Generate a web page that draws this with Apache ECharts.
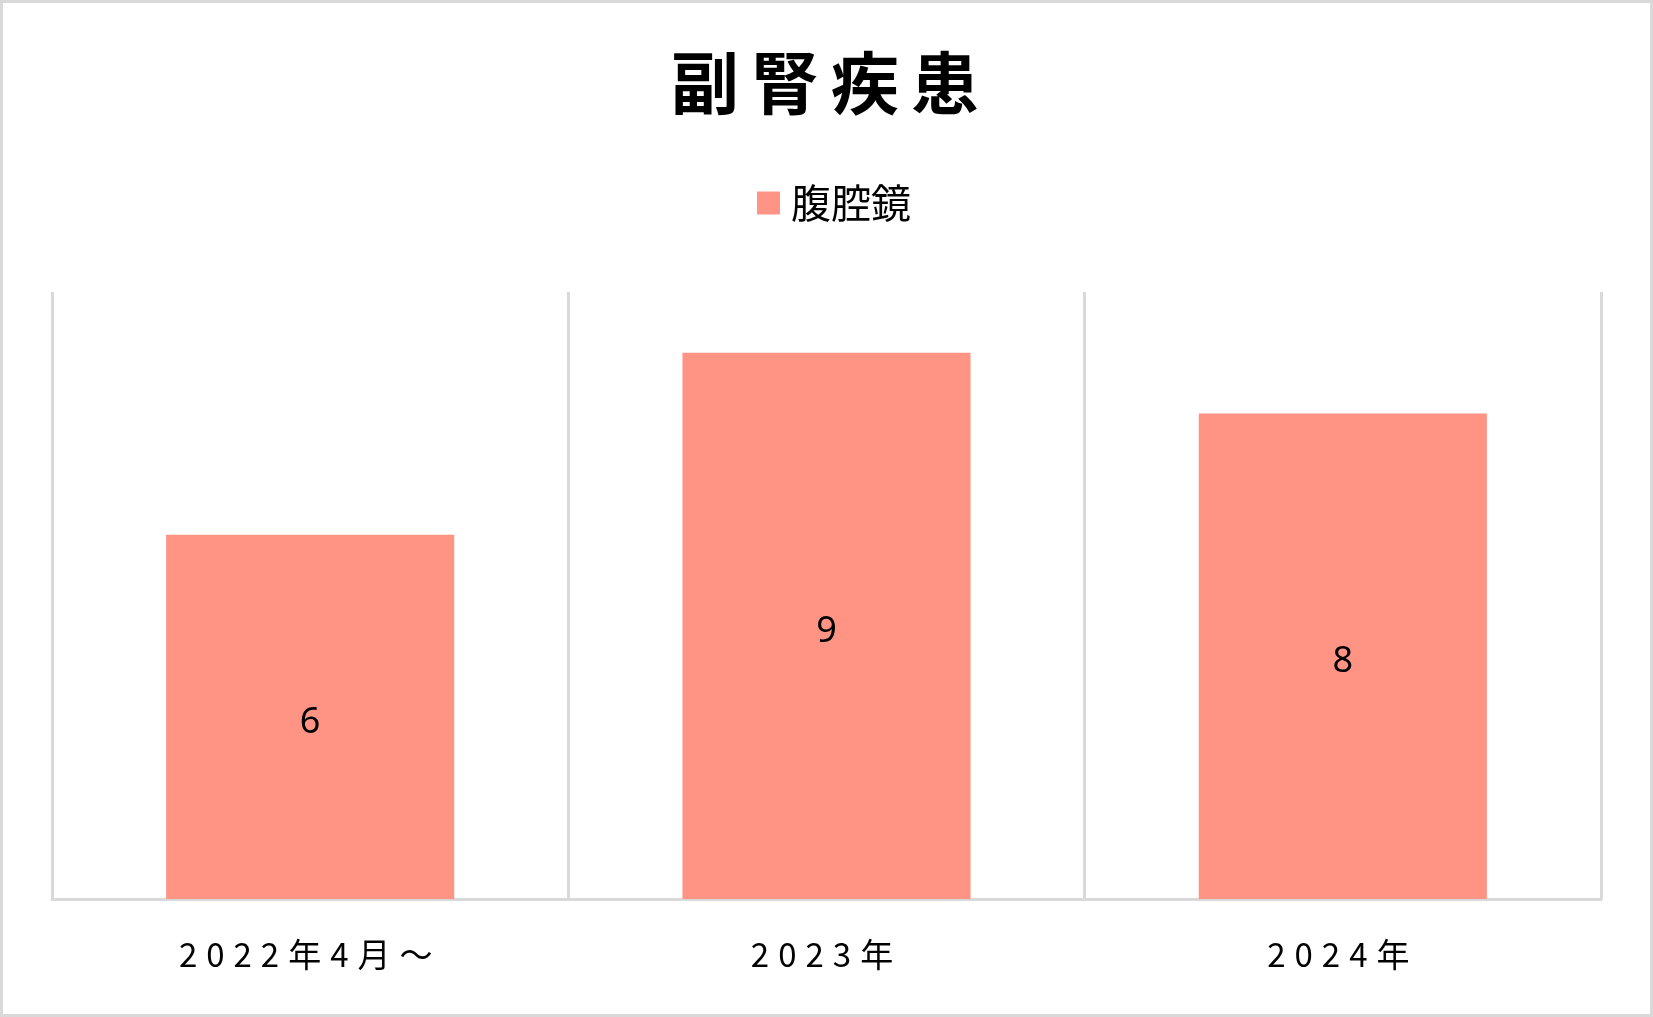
<!DOCTYPE html>
<html>
<head>
<meta charset="utf-8">
<script src="https://cdn.jsdelivr.net/npm/echarts@6/dist/echarts.min.js"></script>
<style>
html,body{margin:0;padding:0;background:#fff;}
#chart{width:1653px;height:1017px;}
</style>
</head>
<body>
<div id="chart"></div>
<script>
const titleText = '副腎疾患';
const seriesName = '腹腔鏡';
const categories = ['2022年4月～', '2023年', '2024年'];
const values = [6, 9, 8];
const yMin = 0;
const yMax = 10;

function spaced(str, style) {
  return Array.from(str).map(c => '{' + style + '|' + c + '}').join('');
}

const chart = echarts.init(document.getElementById('chart'), null, {renderer: 'canvas'});
const cjk = '"Noto Sans CJK JP", "Noto Sans", sans-serif';

chart.setOption({
  backgroundColor: '#ffffff',
  animation: false,
  title: {
    text: spaced(titleText, 't'),
    left: 666,
    top: 44,
    textStyle: {
      rich: {
        t: {fontFamily: cjk, fontSize: 68, fontWeight: 'bold', color: '#000', padding: [0, 12, 0, 0]}
      }
    }
  },
  legend: {
    data: [seriesName],
    top: 178,
    left: 752,
    icon: 'rect',
    itemWidth: 23,
    itemHeight: 23,
    textStyle: {fontFamily: cjk, fontSize: 40, color: '#000', padding: [0, 0, 0, 6]}
  },
  grid: {left: 52, right: 52, top: 292, bottom: 118, containLabel: false},
  xAxis: {
    type: 'category',
    data: categories,
    axisLine: {show: true, lineStyle: {color: '#d9d9d9', width: 3}},
    axisTick: {show: false},
    splitLine: {show: true, showMinLine: true, showMaxLine: true, lineStyle: {color: '#d9d9d9', width: 3}},
    axisLabel: {
      margin: 39,
      formatter: v => spaced(v, 'a'),
      rich: {
        a: {fontFamily: cjk, fontSize: 33, color: '#000', padding: [0, 9, 0, 0]}
      }
    }
  },
  yAxis: {
    type: 'value',
    min: yMin,
    max: yMax,
    show: false,
    splitLine: {show: false}
  },
  graphic: [{
    type: 'rect',
    shape: {x: 1.5, y: 1.5, width: 1650, height: 1014},
    style: {fill: null, stroke: '#d9d9d9', lineWidth: 3},
    silent: true
  }],
  series: [{
    name: seriesName,
    type: 'bar',
    data: values,
    barWidth: '55.8%',
    itemStyle: {color: '#ff9485'},
    label: {
      show: true,
      position: 'inside',
      offset: [0, 6],
      color: '#000',
      fontSize: 36,
      fontFamily: '"Noto Sans", sans-serif'
    }
  }]
});
</script>
</body>
</html>
